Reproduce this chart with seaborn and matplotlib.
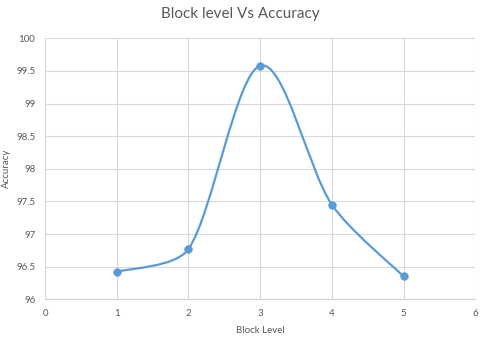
import numpy as np
from matplotlib import pyplot as plt
from matplotlib.path import Path
from matplotlib.patches import PathPatch
import pandas as pd
import seaborn as sns

# data
block_level = [1, 2, 3, 4, 5]
accuracy = [96.42, 96.77, 99.58, 97.45, 96.35]
x_ticks = [0, 1, 2, 3, 4, 5, 6]
y_ticks = [96, 96.5, 97, 97.5, 98, 98.5, 99, 99.5, 100]

blue = "#5b9bd5"
grey_text = "#595959"

sns.set_theme(style="white")
plt.rcParams["font.family"] = ["Lato", "DejaVu Sans"]

fig = plt.figure(figsize=(4.8, 3.42), dpi=100)
ax = fig.add_axes([0.094, 0.125, 0.896, 0.763])
ax.set_xlim(0, 6)
ax.set_ylim(96, 100)

df = pd.DataFrame({"Block Level": block_level, "Accuracy": accuracy})


def smooth_path(ax, pts, f=0.3):
    # Excel-like smoothing: Catmull-Rom bezier in screen space,
    # with control arms capped by the segment length
    p = ax.transData.transform(pts)
    n = len(p)
    diffs = [p[min(i + 1, n - 1)] - p[max(i - 1, 0)] for i in range(n)]
    verts = [p[0]]
    codes = [Path.MOVETO]
    for i in range(n - 1):
        seg = np.hypot(*(p[i + 1] - p[i]))
        arms = []
        for j in (i, i + 1):
            d = diffs[j]
            length = np.hypot(*d)
            arm = min(length / 6, seg * f)
            arms.append(d / length * arm)
        verts += [p[i] + arms[0], p[i + 1] - arms[1], p[i + 1]]
        codes += [Path.CURVE4] * 3
    verts = ax.transData.inverted().transform(np.array(verts))
    return Path(verts, codes)


pts = df[["Block Level", "Accuracy"]].to_numpy(dtype=float)
ax.add_patch(PathPatch(smooth_path(ax, pts), facecolor="none", edgecolor=blue,
                       linewidth=1.6, capstyle="round", zorder=3))

sns.scatterplot(data=df, x="Block Level", y="Accuracy", ax=ax, color=blue,
                s=30, edgecolor=blue, linewidth=0.5, zorder=4)

ax.set_xlim(0, 6)
ax.set_ylim(96, 100)
ax.set_xticks(x_ticks)
ax.set_yticks(y_ticks)
ax.set_xticklabels([str(t) for t in x_ticks])
ax.set_yticklabels([f"{t:g}" for t in y_ticks])
ax.grid(True, color="#d9d9d9", linewidth=0.8)
ax.set_axisbelow(True)
for side in ["top", "right", "left"]:
    ax.spines[side].set_visible(False)
ax.spines["bottom"].set_color("#d0d0d0")
ax.spines["bottom"].set_linewidth(0.8)
ax.tick_params(axis="both", length=0, labelsize=7, colors=grey_text, pad=7)

ax.set_xlabel("Block Level", fontsize=7, color=grey_text, labelpad=6)
ax.set_ylabel("Accuracy", fontsize=7, color=grey_text, labelpad=4)
fig.suptitle("Block level Vs Accuracy", fontsize=11, color=grey_text, y=0.98)

fig.savefig("out.png", dpi=100, facecolor="white")
